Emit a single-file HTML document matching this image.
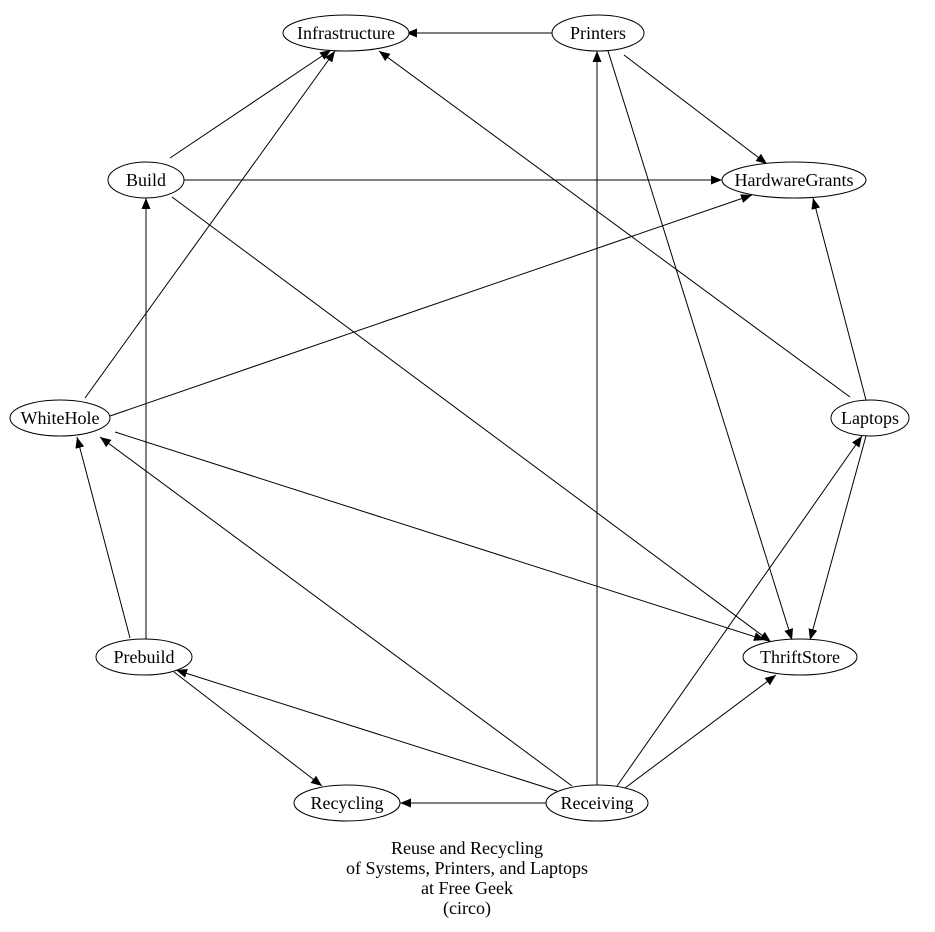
<!DOCTYPE html>
<html><head><meta charset="utf-8"><style>
html,body{margin:0;padding:0;background:#fff;}
svg{display:block;}
text{font-family:"Liberation Serif",serif;font-size:18px;fill:#000;}
</style></head><body>
<svg width="935" height="932" viewBox="0 0 935 932" xmlns="http://www.w3.org/2000/svg">
<defs>
<marker id="a" markerUnits="userSpaceOnUse" markerWidth="12" markerHeight="10" refX="11" refY="4.5" orient="auto">
<path d="M0,0 L11,4.5 L0,9 Z" fill="#000"/>
</marker>
</defs>
<g stroke="#000" stroke-width="1" fill="none" marker-end="url(#a)">
<line x1="552" y1="33" x2="406" y2="33"/>
<line x1="624" y1="55" x2="767" y2="164"/>
<line x1="608" y1="51" x2="792" y2="640"/>
<line x1="170" y1="158" x2="331" y2="50"/>
<line x1="184" y1="180" x2="722" y2="180"/>
<line x1="172" y1="197" x2="771" y2="642"/>
<line x1="85" y1="398" x2="335" y2="51"/>
<line x1="110" y1="416" x2="752" y2="195"/>
<line x1="115" y1="432" x2="765" y2="640"/>
<line x1="850" y1="397" x2="379" y2="51"/>
<line x1="866" y1="400" x2="813" y2="198"/>
<line x1="866" y1="436" x2="810" y2="640"/>
<line x1="130" y1="638" x2="77" y2="437"/>
<line x1="146" y1="639" x2="146" y2="198"/>
<line x1="174" y1="672" x2="322" y2="786"/>
<line x1="557" y1="791" x2="176" y2="670"/>
<line x1="572" y1="786" x2="100" y2="437"/>
<line x1="546" y1="803" x2="400" y2="803"/>
<line x1="597" y1="785" x2="597" y2="51"/>
<line x1="617" y1="786" x2="862" y2="436"/>
<line x1="625" y1="788" x2="776" y2="675"/>
</g>
<g stroke="#000" stroke-width="1" fill="#fff">
<ellipse cx="346" cy="33" rx="63" ry="18"/>
<ellipse cx="598" cy="33" rx="46" ry="18"/>
<ellipse cx="794" cy="180" rx="72" ry="18"/>
<ellipse cx="146" cy="180" rx="38" ry="18"/>
<ellipse cx="60" cy="418" rx="50" ry="18"/>
<ellipse cx="870" cy="418" rx="39" ry="18"/>
<ellipse cx="144" cy="657" rx="48" ry="18"/>
<ellipse cx="800" cy="657" rx="57" ry="18"/>
<ellipse cx="347" cy="803" rx="53" ry="18"/>
<ellipse cx="597" cy="803" rx="51" ry="18"/>
</g>
<g text-anchor="middle">
<text x="346" y="39">Infrastructure</text>
<text x="598" y="39">Printers</text>
<text x="794" y="186">HardwareGrants</text>
<text x="146" y="186">Build</text>
<text x="60" y="424">WhiteHole</text>
<text x="870" y="424">Laptops</text>
<text x="144" y="663">Prebuild</text>
<text x="800" y="663">ThriftStore</text>
<text x="347" y="809">Recycling</text>
<text x="597" y="809">Receiving</text>
<text x="467" y="854">Reuse and Recycling</text>
<text x="467" y="874">of Systems, Printers, and Laptops</text>
<text x="467" y="894">at Free Geek</text>
<text x="467" y="914">(circo)</text>
</g>
</svg>
</body></html>
